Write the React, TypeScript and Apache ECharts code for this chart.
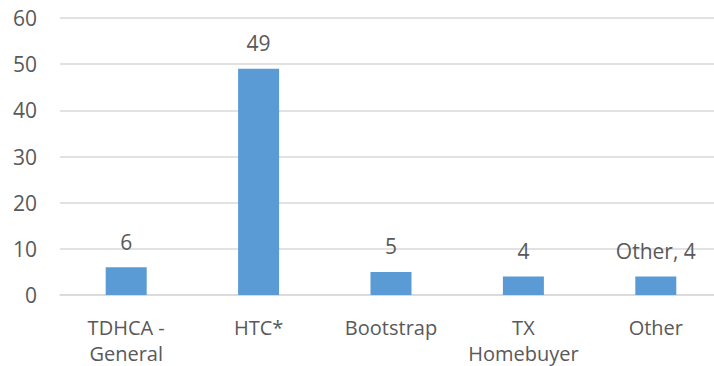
import React, { useEffect, useRef } from "react";
import * as echarts from "echarts";

const categories = ["TDHCA -\nGeneral", "HTC*", "Bootstrap", "TX\nHomebuyer", "Other"];
const values = [6, 49, 5, 4, 4];
const valueLabels = ["6", "49", "5", "4", "Other, 4"];
const yTicks = { min: 0, max: 60, interval: 10 };

const FONT = "'Open Sans', 'Noto Sans', sans-serif";
const TEXT = "#595959";

export default function App() {
  const ref = useRef<HTMLDivElement>(null);
  useEffect(() => {
    if (!ref.current) return;
    const chart = echarts.init(ref.current, undefined, { renderer: "svg" });
    chart.setOption({
      animation: false,
      grid: { left: 60, right: -8, top: 18, bottom: 71, outerBoundsMode: "none", containLabel: false },
      xAxis: {
        type: "category",
        data: categories,
        axisTick: { show: false },
        axisLine: { lineStyle: { color: "#D9D9D9", width: 1.5 } },
        axisLabel: {
          color: TEXT,
          fontFamily: FONT,
          fontSize: 20,
          lineHeight: 26,
          margin: 19,
          interval: 0,
        },
      },
      yAxis: {
        type: "value",
        min: yTicks.min,
        max: yTicks.max,
        interval: yTicks.interval,
        axisLine: { show: false },
        axisTick: { show: false },
        splitLine: { lineStyle: { color: "#D9D9D9", width: 1.5 } },
        axisLabel: {
          color: TEXT,
          fontFamily: FONT,
          fontSize: 21,
          margin: 23,
        },
      },
      series: [
        {
          type: "bar",
          data: values,
          barWidth: 41,
          itemStyle: { color: "#5B9BD5" },
          label: {
            show: true,
            position: "top",
            distance: 15,
            color: TEXT,
            fontFamily: FONT,
            fontSize: 21,
            formatter: (p: any) => valueLabels[p.dataIndex],
          },
        },
      ],
    });
    return () => chart.dispose();
  }, []);
  return (
    <div style={{ position: "fixed", left: 0, top: 0, width: 714, height: 366, overflow: "hidden", background: "#fff" }}>
      <div ref={ref} style={{ width: 714, height: 366 }} />
    </div>
  );
}
